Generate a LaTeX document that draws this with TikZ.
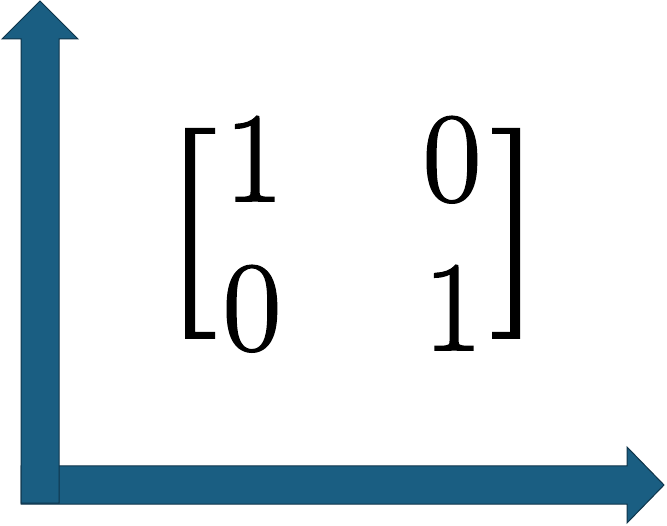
\documentclass[tikz,border=0pt]{standalone}
\usepackage{fontspec}
\usepackage{tikz}
\usetikzlibrary{positioning}
\newfontfamily\entryfont[FakeBold=1.5]{Latin Modern Roman}

\definecolor{axisblue}{RGB}{26,94,130}
\definecolor{axisedge}{RGB}{14,52,74}
\tikzset{axisarrow/.style={fill=axisblue,draw=axisedge,line width=1pt,line join=miter},
    entry/.style={anchor=base,inner sep=0pt,font=\entryfont\fontsize{128}{128}\selectfont},
    bracket/.style={fill=black}}

\begin{document}
\begin{tikzpicture}[x=1pt,y=-1pt]
        \useasboundingbox (0,0) rectangle (667,526);
        \draw[axisarrow] (21,466) -- (627,466) -- (627,447) -- (664,485) -- (627,523) -- (627,504) -- (21,504) -- cycle;
        \draw[axisarrow] (21,503) -- (21,39) -- (2,39) -- (40,1) -- (78,39) -- (59,39) -- (59,503) -- cycle;
        \node [entry] (a11) at (254,201) {1};
        \node [entry] (a12) at (452,201) {0};
        \node [entry] (a21) at (252,350) {0};
        \node [entry] (a22) at (453,350) {1};
        \fill[bracket] (185,128) -- (215,128) -- (215,134) -- (195,134) -- (195,332) -- (215,332) -- (215,339) -- (185,339) -- cycle;
        \fill[bracket] (520,128) -- (492,128) -- (492,134) -- (510,134) -- (510,332) -- (492,332) -- (492,339) -- (520,339) -- cycle;
    \end{tikzpicture}
\end{document}
